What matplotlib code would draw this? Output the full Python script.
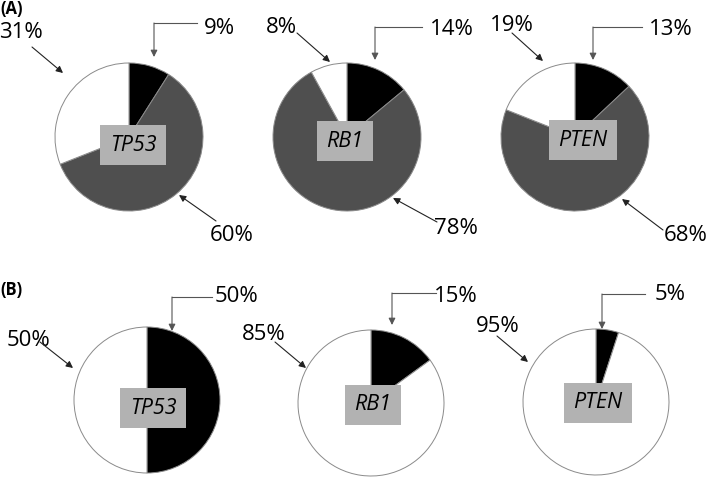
import matplotlib.pyplot as plt

plt.rcParams['font.family'] = ['Open Sans', 'DejaVu Sans']

genes = ["TP53", "RB1", "PTEN"]

# panel A: black / dark grey / white shares (%)
a_black = [9, 14, 13]
a_gray = [60, 78, 68]
a_white = [31, 8, 19]

# panel B: black / white shares (%)
b_black = [50, 15, 5]
b_white = [50, 85, 95]

W, H = 709, 479
fig = plt.figure(figsize=(W / 100, H / 100), dpi=100)
ax = fig.add_axes([0, 0, 1, 1])


def P(x, y):
    # pixel coords (top-left origin) -> data coords
    return (x, H - y)


edge = dict(edgecolor="#8a8a8a", linewidth=0.7)

# pie layout in pixels
a_centers = [(129, 137), (347, 137), (575, 137)]
b_centers = [(147, 400), (371, 403), (596, 402)]
a_boxes = [(133, 145), (345, 141), (583, 140)]
b_boxes = [(153, 408), (373, 405), (598, 403)]

for i in range(3):
    ax.pie([a_black[i], a_gray[i], a_white[i]], colors=["black", "#4f4f4f", "white"],
           startangle=90, counterclock=False, radius=74, center=P(*a_centers[i]),
           wedgeprops=edge)
    ax.pie([b_black[i], b_white[i]], colors=["black", "white"],
           startangle=90, counterclock=False, radius=73, center=P(*b_centers[i]),
           wedgeprops=edge)

box = dict(boxstyle="square,pad=0.45", facecolor="#b2b2b2", edgecolor="none")
for i, g in enumerate(genes):
    ax.text(*P(*a_boxes[i]), g, style="italic", fontsize=15.5, ha="center", va="center",
            bbox=box, zorder=5)
    ax.text(*P(*b_boxes[i]), g, style="italic", fontsize=15.5, ha="center", va="center",
            bbox=box, zorder=5)

ax.text(*P(0, 0), "(A)", fontsize=12, fontweight="bold", ha="left", va="top")
ax.text(*P(0, 281), "(B)", fontsize=12, fontweight="bold", ha="left", va="top")


def pct(v, pos):
    ax.text(*P(*pos), f"{v}%", fontsize=16, ha="center", va="center")


def straight(p0, p1):
    ax.annotate("", xy=P(*p1), xytext=P(*p0),
                arrowprops=dict(arrowstyle="-|>", color="#222222", lw=0.8,
                                mutation_scale=10, shrinkA=0, shrinkB=0))


def bent(p0, corner, p1):
    ax.plot([P(*p0)[0], P(*corner)[0]], [P(*p0)[1], P(*corner)[1]],
            color="#555555", lw=0.8)
    ax.annotate("", xy=P(*p1), xytext=P(*corner),
                arrowprops=dict(arrowstyle="-|>", color="#555555", lw=0.8,
                                mutation_scale=10, shrinkA=0, shrinkB=0))


# panel A labels
a_black_txt = [(219, 28), (452, 29), (671, 29)]
a_white_txt = [(21, 32), (281, 27), (512, 25)]
a_gray_txt = [(232, 235), (456, 228), (686, 235)]
a_black_arr = [((197, 23), (154, 23), (154, 57)),
               ((422, 27), (375, 27), (375, 60)),
               ((642, 27), (593, 27), (593, 60))]
a_white_arr = [((32, 47), (63, 73)), ((297, 33), (330, 62)), ((512, 33), (543, 61))]
a_gray_arr = [((216, 221), (179, 195)), ((437, 222), (393, 198)), ((663, 230), (622, 199))]

for i in range(3):
    pct(a_black[i], a_black_txt[i])
    pct(a_white[i], a_white_txt[i])
    pct(a_gray[i], a_gray_txt[i])
    bent(*a_black_arr[i])
    straight(*a_white_arr[i])
    straight(*a_gray_arr[i])

# panel B labels
b_black_txt = [(237, 297), (456, 296), (670, 295)]
b_white_txt = [(28, 341), (264, 334), (498, 326)]
b_black_arr = [((212, 297), (172, 297), (172, 331)),
               ((436, 293), (392, 293), (392, 325)),
               ((645, 294), (602, 294), (602, 329))]
b_white_arr = [((40, 342), (73, 368)), ((275, 342), (306, 368)), ((497, 336), (528, 362))]

for i in range(3):
    pct(b_black[i], b_black_txt[i])
    pct(b_white[i], b_white_txt[i])
    bent(*b_black_arr[i])
    straight(*b_white_arr[i])

ax.set_xlim(0, W)
ax.set_ylim(0, H)
ax.set_aspect("auto")
ax.axis("off")

fig.savefig("out.png", dpi=100)
